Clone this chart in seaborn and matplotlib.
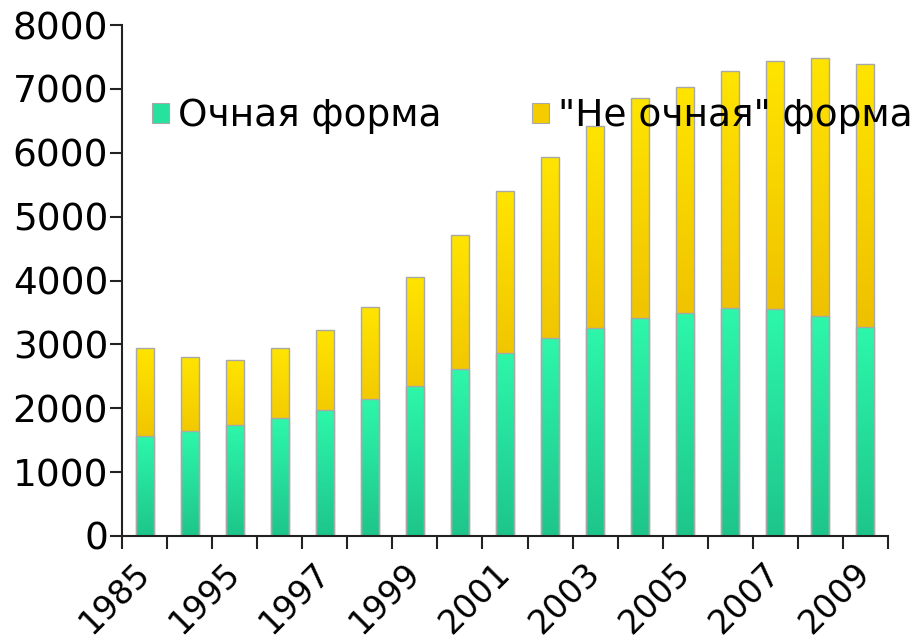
import numpy as np
import pandas as pd
import matplotlib
matplotlib.use("Agg")
import matplotlib.pyplot as plt
import matplotlib.colors as mcolors
from matplotlib.patches import Patch
import seaborn as sns

years = ["1985", "1990", "1995", "1996", "1997", "1998", "1999", "2000", "2001",
         "2002", "2003", "2004", "2005", "2006", "2007", "2008", "2009"]
full_time = [1560, 1640, 1745, 1840, 1970, 2145, 2345, 2610, 2865,
             3100, 3260, 3410, 3495, 3570, 3560, 3440, 3270]
total = [2940, 2810, 2760, 2940, 3230, 3585, 4050, 4720, 5395,
         5930, 6420, 6855, 7035, 7280, 7430, 7490, 7385]
tick_labels = ["1985", "", "1995", "", "1997", "", "1999", "", "2001",
               "", "2003", "", "2005", "", "2007", "", "2009"]
series_names = ["Очная форма", "\"Не очная\" форма"]

df = pd.DataFrame({"year": years, "full": full_time, "total": total})

sns.set_theme(style="white")
plt.rcParams["font.family"] = ["DejaVu Sans"]
plt.rcParams["text.color"] = "black"
plt.rcParams["xtick.color"] = "black"
plt.rcParams["ytick.color"] = "black"

fig = plt.figure(figsize=(9.18, 6.41), dpi=100)
ax = fig.add_axes([122 / 918, 1 - 536 / 641, (888 - 122) / 918, (536 - 25) / 641])

green = "#27E29E"
yellow = "#F5CC00"
edge = "#A8A8A8"

sns.barplot(data=df, x="year", y="total", color=yellow, width=0.4,
            edgecolor=edge, linewidth=1.0, saturation=1, ax=ax)
n_total = len(ax.patches)
sns.barplot(data=df, x="year", y="full", color=green, width=0.4,
            edgecolor=edge, linewidth=1.0, saturation=1, ax=ax)

# vertical gradients clipped to each bar
ycmap = mcolors.LinearSegmentedColormap.from_list("y", ["#DCA000", "#F0C400", "#FFE400"])
gcmap = mcolors.LinearSegmentedColormap.from_list("g", ["#1EC58A", "#26DE9C", "#2DF7AA"])
grad = np.linspace(0, 1, 256).reshape(-1, 1)
for i, p in enumerate(list(ax.patches)):
    x0, y0 = p.get_x(), p.get_y()
    w, h = p.get_width(), p.get_height()
    cmap = ycmap if i < n_total else gcmap
    im = ax.imshow(grad, cmap=cmap, aspect="auto", origin="lower",
                   extent=[x0, x0 + w, y0, y0 + h], zorder=p.get_zorder(),
                   interpolation="bilinear")
    im.set_clip_path(p)
    p.set_facecolor("none")
    p.set_zorder(p.get_zorder() + 0.1)

ax.set_xlim(-0.5, len(years) - 0.5)
ax.set_ylim(0, 8000)
ax.set_yticks(range(0, 8001, 1000))
ax.set_xlabel("")
ax.set_ylabel("")

ax.set_xticks(range(len(years)))
ax.set_xticklabels(tick_labels, rotation=45, ha="right", va="center",
                   rotation_mode="anchor", fontsize=24)
ax.set_xticks(np.arange(-0.5, len(years), 1.0), minor=True)
ax.tick_params(axis="x", which="major", length=0, pad=23)
ax.tick_params(axis="x", which="minor", length=9, width=1.5, color="#222222",
               direction="out", bottom=True)
ax.tick_params(axis="y", which="major", length=9, width=1.5, color="#222222",
               direction="out", left=True, labelsize=27, pad=1)

for side in ["top", "right"]:
    ax.spines[side].set_visible(False)
for side in ["left", "bottom"]:
    ax.spines[side].set_color("#222222")
    ax.spines[side].set_linewidth(1.5)

handles = [Patch(facecolor=green, edgecolor=edge, linewidth=0.8),
           Patch(facecolor=yellow, edgecolor=edge, linewidth=0.8)]
leg = fig.legend(handles, series_names, loc="center left", ncol=2,
                 bbox_to_anchor=(152 / 918, 1 - 116 / 641), bbox_transform=fig.transFigure,
                 frameon=False, fontsize=27, handlelength=0.45, handleheight=0.45,
                 handletextpad=0.25, columnspacing=2.4, borderpad=0, borderaxespad=0)
leg.set_zorder(10)

fig.savefig("out.png", dpi=100)
